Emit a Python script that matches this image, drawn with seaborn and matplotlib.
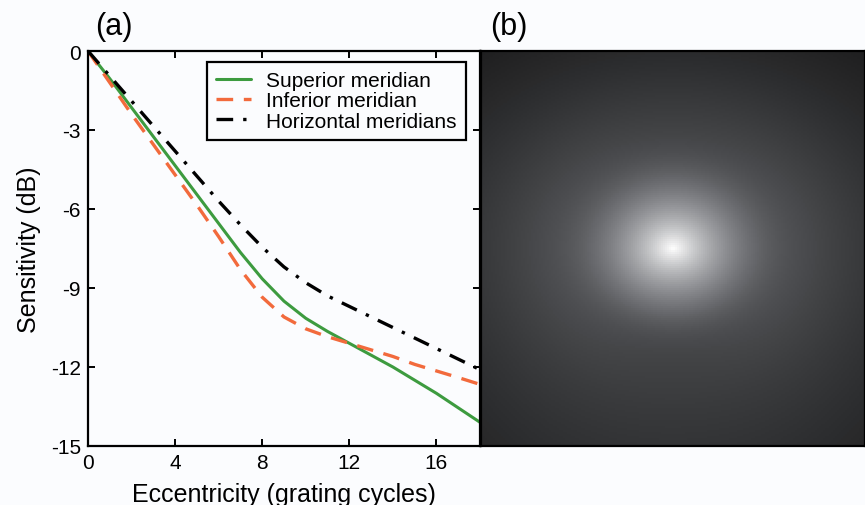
import numpy as np
import pandas as pd
import matplotlib
matplotlib.use("Agg")
import matplotlib.pyplot as plt
import seaborn as sns

# ---- data ----
eccentricity = [0, 1, 2, 3, 4, 5, 6, 7, 8, 9, 10, 11, 12, 13, 14, 15, 16, 17, 18]
superior = [0, -1.05, -2.15, -3.25, -4.35, -5.45, -6.55, -7.65, -8.65, -9.5,
            -10.15, -10.65, -11.1, -11.55, -12.0, -12.5, -13.0, -13.55, -14.1]
inferior = [0, -1.2, -2.4, -3.55, -4.7, -5.85, -7.05, -8.3, -9.35, -10.1,
            -10.55, -10.85, -11.1, -11.35, -11.6, -11.9, -12.15, -12.4, -12.66]
horizontal = [0, -0.95, -1.9, -2.85, -3.8, -4.75, -5.7, -6.6, -7.45, -8.2,
              -8.8, -9.3, -9.7, -10.1, -10.5, -10.9, -11.3, -11.7, -12.1]
labels = ["Superior meridian", "Inferior meridian", "Horizontal meridians"]
xticks = [0, 4, 8, 12, 16]
yticks = [0, -3, -6, -9, -12, -15]

sns.set_style("ticks")
plt.rcParams["font.family"] = ["Liberation Sans", "DejaVu Sans"]
plt.rcParams.update({"text.color": "black", "axes.labelcolor": "black",
                     "xtick.color": "black", "ytick.color": "black",
                     "xtick.labelcolor": "black", "ytick.labelcolor": "black"})
bg = "#fbfcfe"

fig = plt.figure(figsize=(8.65, 5.06), dpi=100, facecolor=bg)
W, H = 865, 506
axA = fig.add_axes([88 / W, 1 - 447 / H, 392 / W, 395 / H])
axB = fig.add_axes([481 / W, 1 - 447 / H, 384 / W, 395 / H])
axA.set_facecolor(bg)

ecc = np.array(eccentricity, dtype=float)
sns.lineplot(x=ecc, y=superior, ax=axA, color="#3d9b3f", lw=2.2,
             label=labels[0])
sns.lineplot(x=ecc, y=inferior, ax=axA, color="#f26a3c", lw=2.4,
             linestyle=(0, (5, 3.2)), label=labels[1])
sns.lineplot(x=ecc, y=horizontal, ax=axA, color="black", lw=2.4,
             linestyle=(0, (5, 3, 1, 3)), label=labels[2])

axA.set_xlim(0, 18)
axA.set_ylim(-15, 0)
axA.set_xticks(xticks)
axA.set_yticks(yticks)
axA.set_xticklabels([str(t) for t in xticks])
axA.set_yticklabels([str(t) for t in yticks])
axA.tick_params(direction="in", top=True, right=True, length=5, width=1.4,
                labelsize=15, pad=5, color="black", labelcolor="black")
for s in axA.spines.values():
    s.set_visible(True)
    s.set_linewidth(1.6)
    s.set_color("black")
axA.set_xlabel("Eccentricity (grating cycles)", fontsize=18, labelpad=7)
axA.set_ylabel("Sensitivity (dB)", fontsize=18, labelpad=7)

leg = axA.legend(loc="upper right", bbox_to_anchor=(0.964, 0.972),
                 borderaxespad=0, fontsize=15, frameon=True, fancybox=False,
                 framealpha=1, edgecolor="black", handlelength=1.7,
                 handletextpad=0.7, labelspacing=0.05, borderpad=0.45)
leg.get_frame().set_linewidth(1.6)
leg.get_frame().set_facecolor(bg)

# ---- panel (b): sensitivity map built from the curves ----
def curve_at(r, curve):
    c = np.array(curve, dtype=float)
    v = np.interp(r, ecc, c)
    slope = c[-1] - c[-2]
    return np.where(r > ecc[-1], c[-1] + (r - ecc[-1]) * slope, v)

xs = np.linspace(-18, 18, 192)
ys = np.linspace(18.5, -18.5, 198)
X, Y = np.meshgrid(xs, ys)
R = np.hypot(X, Y)
TH = np.arctan2(Y, X)
wh = np.cos(TH) ** 2
wv = np.sin(TH) ** 2
vert = np.where(Y > 0, curve_at(R, superior), curve_at(R, inferior))
dB = wh * curve_at(R, horizontal) + wv * vert
img = 10 ** (dB / 18.5)

cmap = sns.blend_palette(["#000000", "#7e8084", "#ffffff"], as_cmap=True)
sns.heatmap(pd.DataFrame(img), ax=axB, cmap=cmap, vmin=0, vmax=1,
            cbar=False, xticklabels=False, yticklabels=False,
            rasterized=True)
axB.tick_params(left=False, bottom=False)
for s in axB.spines.values():
    s.set_visible(True)
    s.set_linewidth(1.6)
    s.set_color("black")

fig.text(95 / W, 1 - 27 / H, "(a)", fontsize=22, va="center", ha="left")
fig.text(490 / W, 1 - 27 / H, "(b)", fontsize=22, va="center", ha="left")

fig.savefig("out.png", dpi=100, facecolor=bg)
